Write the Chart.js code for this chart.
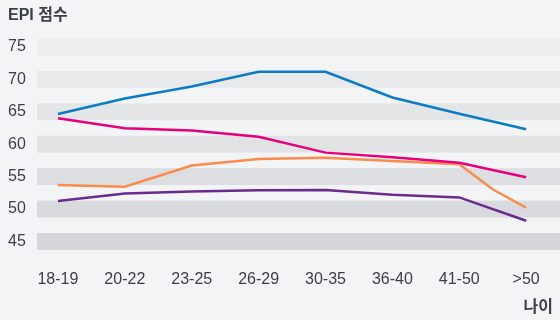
<!DOCTYPE html>
<html>
<head>
<meta charset="utf-8">
<script src="https://cdn.jsdelivr.net/npm/chart.js@4"></script>
<style>
  html, body { margin: 0; background: #f3f4f6; }
  #wrap { width: 560px; height: 320px; }
</style>
</head>
<body>
<div id="wrap"><canvas id="epi-chart"></canvas></div>
<script>
const AGE_GROUPS = ["18-19", "20-22", "23-25", "26-29", "30-35", "36-40", "41-50", ">50"];
const Y_TICKS = [45, 50, 55, 60, 65, 70, 75];

const BLUE = [64.65, 67.05, 68.9, 71.15, 71.15, 67.2, 64.7, 62.3];
const PINK = [64.0, 62.45, 62.1, 61.15, 58.7, 58.0, 57.15, 54.9];
const PURPLE = [51.25, 52.4, 52.7, 52.9, 52.95, 52.2, 51.8, 48.2];
// orange has one extra point between 41-50 and >50
const ORANGE_X = [0, 1, 2, 3, 4, 5, 6, 6.5, 7];
const ORANGE = [53.7, 53.45, 56.7, 57.7, 57.9, 57.4, 56.9, 53.05, 50.2];

// bands behind each y tick, lighter at the top
const BAND_COLORS = ["#d4d6d9", "#d8dadd", "#dcdee1", "#e0e2e4", "#e4e5e7", "#e8e9eb", "#edeef0"];
const BAND_HALF = 1.3;

const TEXT = "#3a3f48";
const FONT = "'Liberation Sans', 'Noto Sans CJK KR', sans-serif";

const toPoints = (values, xs) => values.map((v, i) => ({ x: xs ? xs[i] : i, y: v }));

const line = (data, color) => ({
  data,
  borderColor: color,
  backgroundColor: color,
  borderWidth: 2.5,
  pointRadius: 0,
  tension: 0,
});

const bands = {
  id: "bands",
  beforeDatasetsDraw(chart) {
    const { ctx, chartArea, scales } = chart;
    const y = scales.y;
    ctx.save();
    Y_TICKS.forEach((v, i) => {
      const top = y.getPixelForValue(v + BAND_HALF);
      const bottom = y.getPixelForValue(v - BAND_HALF);
      ctx.fillStyle = BAND_COLORS[i];
      ctx.fillRect(chartArea.left, top, chart.width - chartArea.left, bottom - top);
    });
    ctx.restore();
  },
};

// x axis name sits under the tick labels, flush with the right end
const axisName = {
  id: "axisName",
  afterDraw(chart) {
    const { ctx, chartArea } = chart;
    ctx.save();
    ctx.font = `bold 16px ${FONT}`;
    ctx.fillStyle = TEXT;
    ctx.textAlign = "right";
    ctx.textBaseline = "middle";
    ctx.fillText("나이", chartArea.right, chart.height - 12);
    ctx.restore();
  },
};

const ctx = document.getElementById("epi-chart").getContext("2d");
const epiChart = new Chart(ctx, {
  type: "line",
  data: {
    datasets: [
      line(toPoints(BLUE), "#0b7bc3"),
      line(toPoints(PINK), "#e6007e"),
      line(toPoints(ORANGE, ORANGE_X), "#f98b4c"),
      line(toPoints(PURPLE), "#6a2b8e"),
    ],
  },
  options: {
    responsive: true,
    maintainAspectRatio: false,
    animation: false,
    layout: { padding: { left: 8, right: 5, top: 0, bottom: 11 } },
    plugins: {
      legend: { display: false },
      tooltip: { enabled: false },
      title: {
        display: true,
        text: "EPI 점수",
        align: "start",
        color: TEXT,
        font: { family: FONT, size: 16, weight: "bold" },
        padding: { top: 6, bottom: 13 },
      },
    },
    scales: {
      x: {
        type: "linear",
        min: -0.313,
        max: 7.4,
        afterBuildTicks: (scale) => {
          scale.ticks = AGE_GROUPS.map((_, i) => ({ value: i }));
        },
        grid: { display: false, drawTicks: false },
        border: { display: false },
        ticks: {
          autoSkip: false,
          maxRotation: 0,
          padding: 20,
          color: TEXT,
          font: { family: FONT, size: 16 },
          callback: (value) => AGE_GROUPS[value],
        },
      },
      y: {
        min: 45 - 1.28,
        max: 75 + 1.34,
        afterBuildTicks: (scale) => {
          scale.ticks = Y_TICKS.map((v) => ({ value: v }));
        },
        grid: { display: false, drawTicks: false },
        border: { display: false },
        ticks: {
          padding: 5.6,
          crossAlign: "far",
          color: TEXT,
          font: { family: FONT, size: 16 },
        },
      },
    },
  },
  plugins: [bands, axisName],
});
</script>
</body>
</html>
